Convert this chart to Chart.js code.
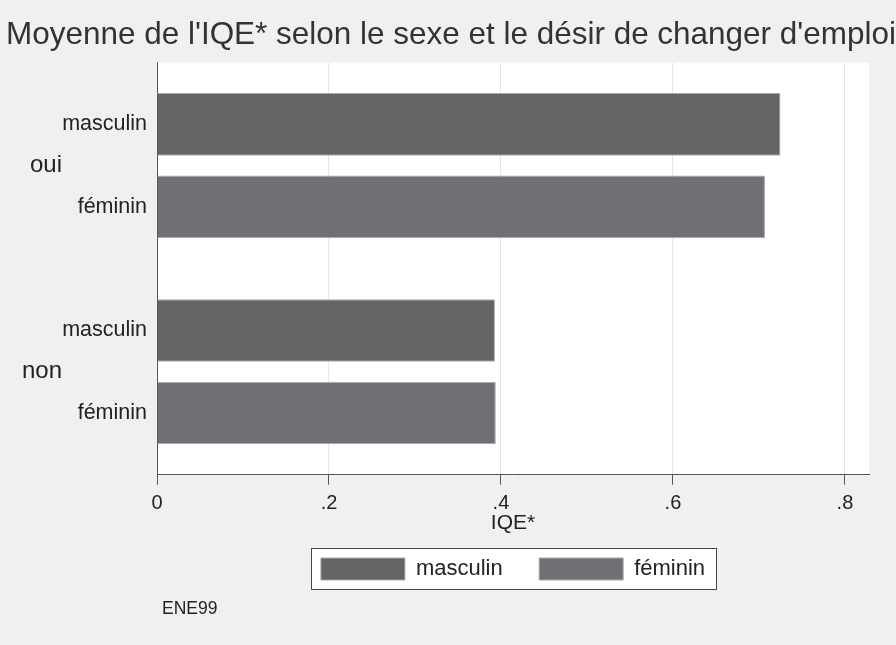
<!DOCTYPE html>
<html>
<head>
<meta charset="utf-8">
<script src="https://cdn.jsdelivr.net/npm/chart.js@4/dist/chart.umd.min.js"></script>
<style>
  html, body { margin: 0; padding: 0; background: #eff0f2; }
  canvas { display: block; }
</style>
</head>
<body>
<canvas id="chart" width="896" height="645"></canvas>
<script>
// désir de changer d'emploi, puis sexe
const groups = ['oui', 'non'];
const sexes = ['masculin', 'féminin'];
const masculin = [0.725, 0.393];
const feminin = [0.707, 0.394];
const xTicks = [0, 0.2, 0.4, 0.6, 0.8];
const xMax = 0.828;
const note = 'ENE99';

const FONT = "'Liberation Sans', Arial, Helvetica, sans-serif";
const BG = '#eff0f2';
const INK = '#222';

// Stata-like spacing: each group takes 5 slots (gap, masculin, gap, féminin, gap)
const slotLabels = [];
const groupSlots = [];
const mData = [];
const fData = [];
groups.forEach((g, gi) => {
  for (let k = 0; k < 5; k++) {
    slotLabels.push(k === 1 ? sexes[0] : k === 3 ? sexes[1] : '');
    groupSlots.push(k === 2 ? g : '');
    mData.push(k === 1 ? masculin[gi] : null);
    fData.push(k === 3 ? feminin[gi] : null);
  }
});

const stataLook = {
  id: 'stataLook',
  afterLayout(chart) {
    // legend centred under the plot region
    const a = chart.chartArea;
    chart.legend.left = a.left;
    chart.legend.right = a.right;
  },
  beforeDraw(chart) {
    const { ctx, chartArea: a, width, height } = chart;
    ctx.save();
    ctx.fillStyle = BG;
    ctx.fillRect(0, 0, width, height);
    ctx.fillStyle = '#fff';
    ctx.fillRect(a.left, a.top, a.right - a.left, a.bottom - a.top);
    const hb = chart.legend.legendHitBoxes;
    if (hb && hb.length) {
      const first = hb[0];
      const last = hb[hb.length - 1];
      const x0 = Math.round(first.left - 10) + 0.5;
      const x1 = Math.round(last.left + last.width + 11) + 0.5;
      const y0 = Math.round(first.top - 10) + 0.5;
      const y1 = Math.round(first.top + first.height + 9) + 0.5;
      ctx.fillStyle = '#fff';
      ctx.fillRect(x0, y0, x1 - x0, y1 - y0);
      ctx.strokeStyle = '#444';
      ctx.lineWidth = 1;
      ctx.strokeRect(x0, y0, x1 - x0, y1 - y0);
    }
    ctx.restore();
  },
  afterDraw(chart) {
    const { ctx, chartArea: a } = chart;
    ctx.save();
    ctx.font = '17.5px ' + FONT;
    ctx.fillStyle = INK;
    ctx.textBaseline = 'middle';
    ctx.fillText(note, a.left + 5, chart.legend.bottom + 19.5);
    ctx.restore();
  }
};

new Chart(document.getElementById('chart'), {
  type: 'bar',
  data: {
    labels: slotLabels,
    datasets: [
      { label: sexes[0], data: mData, backgroundColor: '#646466', borderColor: '#a9a9ab', borderWidth: 1 },
      { label: sexes[1], data: fData, backgroundColor: '#6f7074', borderColor: '#a9a9ab', borderWidth: 1 }
    ]
  },
  options: {
    indexAxis: 'y',
    responsive: false,
    animation: false,
    datasets: { bar: { barPercentage: 1.52, categoryPercentage: 1 } },
    layout: { padding: { left: 6, right: 0, top: 0, bottom: 55 } },
    scales: {
      x: {
        min: 0,
        max: xMax,
        afterBuildTicks(axis) { axis.ticks = xTicks.map(v => ({ value: v })); },
        ticks: {
          callback: v => (v === 0 ? '0' : v.toFixed(1).replace(/^0/, '')),
          font: { size: 20, family: FONT },
          color: INK,
          padding: 7,
          maxRotation: 0
        },
        grid: { color: '#e6e6e6', tickColor: '#555', tickLength: 10 },
        border: { color: '#555' },
        title: {
          display: true,
          text: 'IQE*',
          font: { size: 21, family: FONT },
          color: INK,
          padding: { top: -12, bottom: 10 }
        },
        afterFit(axis) { axis.paddingRight = 27; }
      },
      y: {
        stacked: true,
        ticks: { autoSkip: false, font: { size: 21.5, family: FONT }, color: INK, padding: 10 },
        grid: { display: false, drawTicks: false },
        border: { display: true, color: '#555' },
        afterFit(axis) { axis.width = 95; }
      },
      y2: {
        type: 'category',
        labels: groupSlots,
        offset: true,
        position: 'left',
        ticks: { autoSkip: false, font: { size: 24, family: FONT }, color: INK, padding: 0 },
        grid: { display: false, drawTicks: false },
        border: { display: false },
        afterFit(axis) { axis.width = 56; }
      }
    },
    plugins: {
      title: {
        display: true,
        text: "Moyenne de l'IQE* selon le sexe et le désir de changer d'emploi",
        align: 'start',
        color: '#333',
        font: { size: 31.5, family: FONT, weight: 'normal' },
        padding: { top: 16.4, bottom: 8.4 }
      },
      legend: {
        position: 'bottom',
        labels: {
          boxWidth: 84,
          boxHeight: 22,
          padding: 12,
          color: INK,
          font: { size: 22, family: FONT },
          generateLabels(chart) {
            const items = Chart.defaults.plugins.legend.labels.generateLabels(chart);
            items.forEach((it, i) => { if (i < items.length - 1) it.text += '    '; });
            return items;
          }
        }
      },
      tooltip: { enabled: false }
    }
  },
  plugins: [stataLook]
});
</script>
</body>
</html>
